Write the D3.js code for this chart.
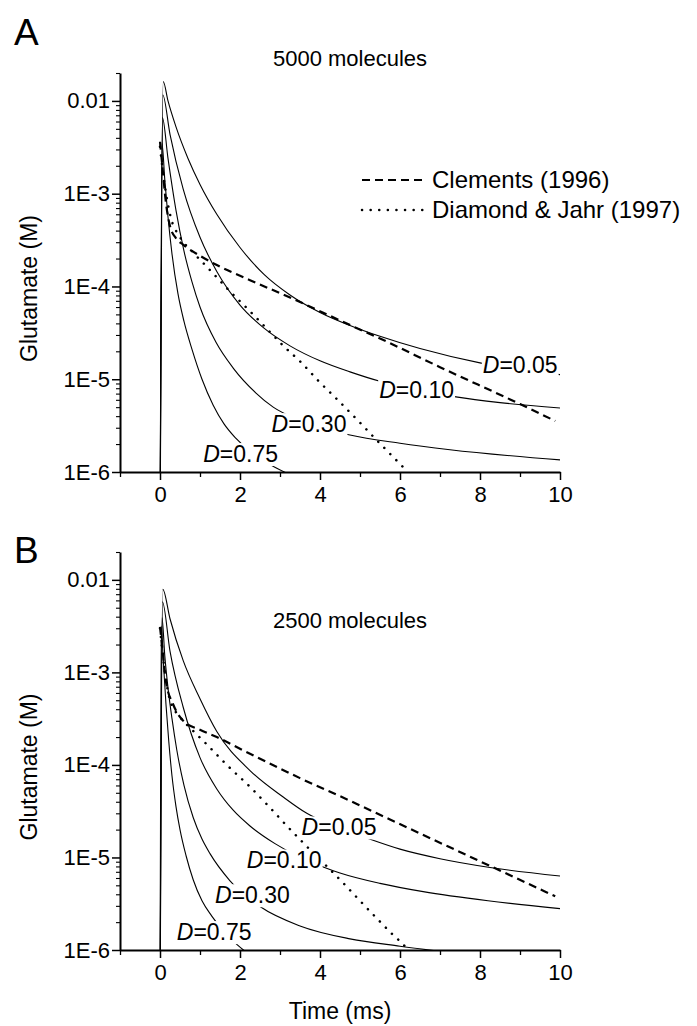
<!DOCTYPE html>
<html lang="en">
<head>
    <meta charset="UTF-8">
    <title>Glutamate concentration in the cleft</title>
    <script src="https://d3js.org/d3.v7.min.js"></script>
    <style>
        body { margin: 0; background: #fff; }
        svg text { font-family: "Liberation Sans", Arial, Helvetica, sans-serif; fill: #000; }
    </style>
</head>
<body>
    <svg id="chart" width="697" height="1026"></svg>

    <script>
        // [time (ms), glutamate (M)]

        // panel A, 5000 molecules
        const a_D005 = [[0, 1e-7], [0.08, 0.0162], [0.2, 0.010], [0.4, 5.25e-3], [0.7, 2.4e-3], [1.0, 1.26e-3], [1.42, 6.0e-4],
            [2.0, 2.63e-4], [2.6, 1.35e-4], [3.25, 8.1e-5], [4.0, 5.25e-5], [4.75, 3.8e-5], [5.5, 2.9e-5], [6.5, 2.14e-5],
            [8, 1.5e-5], [10, 1.12e-5]];
        const a_D010 = [[0, 1e-7], [0.07, 0.0116], [0.25, 4.37e-3], [0.58, 1.12e-3], [1.0, 3.39e-4], [1.42, 1.45e-4], [2.0, 6.3e-5],
            [2.6, 3.55e-5], [3.25, 2.29e-5], [4.0, 1.58e-5], [4.75, 1.2e-5], [5.5, 9.5e-6], [6.5, 7.6e-6], [7.4, 6.45e-6],
            [8.5, 5.6e-6], [10, 4.9e-6]];
        const a_D030 = [[0, 1e-7], [0.06, 6.6e-3], [0.2, 2.4e-3], [0.4, 6.6e-4], [0.6, 2.4e-4], [0.8, 1.12e-4], [1.0, 6.0e-5],
            [1.4, 2.5e-5], [1.83, 1.32e-5], [2.4, 7.1e-6], [2.83, 5.0e-6], [3.5, 3.6e-6], [4.75, 2.5e-6], [6, 2.04e-6],
            [7.25, 1.74e-6], [10, 1.35e-6]];
        const a_D075 = [[0, 1e-7], [0.05, 3.47e-3], [0.12, 1.41e-3], [0.2, 5.6e-4], [0.3, 2.24e-4], [0.45, 8.3e-5], [0.6, 4.2e-5],
            [0.8, 2.1e-5], [1.05, 1.0e-5], [1.33, 5.25e-6], [1.6, 3.3e-6], [1.9, 2.3e-6], [2.4, 1.48e-6], [2.92, 1.1e-6],
            [3.5, 8.3e-7]];
        const a_clements = [[0, 3.63e-3], [0.05, 2.19e-3], [0.15, 7.9e-4], [0.25, 4.47e-4], [0.4, 3.31e-4], [0.58, 2.82e-4],
            [1.0, 2.14e-4], [1.42, 1.7e-4], [2.25, 1.17e-4], [3.25, 7.6e-5], [4.67, 3.98e-5], [5.5, 2.75e-5], [7, 1.35e-5],
            [9, 5.4e-6], [9.88, 3.55e-6]];
        const a_diamond = [[0, 3.2e-3], [0.1, 1.4e-3], [0.25, 6.0e-4], [0.5, 3.4e-4], [0.8, 2.4e-4], [1.25, 1.5e-4], [1.67, 9.6e-5],
            [2.25, 5.4e-5], [2.67, 3.5e-5], [3.08, 2.3e-5], [3.54, 1.5e-5], [3.96, 9.6e-6], [4.375, 6.4e-6], [5, 3.4e-6],
            [5.42, 2.2e-6], [5.83, 1.45e-6], [6.15, 1.05e-6]];

        // panel B, 2500 molecules
        const b_D005 = [[0, 1e-7], [0.07, 7.9e-3], [0.25, 3.8e-3], [0.58, 1.34e-3], [1.0, 5.2e-4], [1.42, 2.3e-4], [2.25, 8.7e-5],
            [3.08, 4.5e-5], [3.67, 3.0e-5], [4.4, 2.14e-5], [5.17, 1.62e-5], [6, 1.23e-5], [7, 9.7e-6], [8.25, 7.8e-6], [10, 6.3e-6]];
        const b_D010 = [[0, 1e-7], [0.06, 5.8e-3], [0.25, 1.7e-3], [0.58, 4.2e-4], [1.0, 1.2e-4], [1.42, 5.5e-5], [1.83, 3.24e-5],
            [2.25, 2.19e-5], [2.875, 1.41e-5], [4.08, 7.9e-6], [4.5, 6.8e-6], [5.5, 5.25e-6], [6.58, 4.27e-6], [8.2, 3.4e-6],
            [10, 2.8e-6]];
        const b_D030 = [[0, 1e-7], [0.05, 3.9e-3], [0.12, 1.51e-3], [0.2, 6.8e-4], [0.3, 3.16e-4], [0.42, 1.45e-4], [0.6, 6.0e-5],
            [0.83, 2.7e-5], [1.05, 1.58e-5], [1.25, 1.1e-5], [1.75, 5.6e-6], [2.5, 2.95e-6], [3.5, 1.82e-6], [4.75, 1.32e-6],
            [6, 1.1e-6], [7.5, 9.1e-7]];
        const b_D075 = [[0, 1e-7], [0.03, 3.16e-3], [0.08, 1.41e-3], [0.15, 4.47e-4], [0.22, 1.78e-4], [0.3, 7.6e-5], [0.4, 3.55e-5],
            [0.5, 2.0e-5], [0.65, 1.05e-5], [0.83, 5.75e-6], [1.05, 3.4e-6], [1.29, 2.34e-6], [1.6, 1.58e-6], [1.92, 1.15e-6],
            [2.3, 8.5e-7]];
        const b_clements = [[0, 3.1e-3], [0.05, 2.0e-3], [0.15, 7.9e-4], [0.33, 4.5e-4], [0.58, 3.0e-4], [1.0, 2.4e-4], [1.42, 2.0e-4],
            [2.25, 1.32e-4], [3.5, 7.2e-5], [4.75, 4.1e-5], [5.75, 2.57e-5], [8.25, 8.1e-6], [9.88, 3.8e-6]];
        const b_diamond = [[0, 3e-3], [0.1, 1.2e-3], [0.25, 5e-4], [0.5, 3.3e-4], [0.8, 2.4e-4], [1.21, 1.6e-4], [1.67, 1.0e-4],
            [2.25, 5.8e-5], [2.71, 3.6e-5], [3.17, 2.2e-5], [3.54, 1.5e-5], [4.58, 5.3e-6], [5, 3.4e-6], [5.42, 2.2e-6],
            [5.83, 1.45e-6], [6.08, 1.15e-6], [6.2, 1.0e-6]];

        const dValues = ["0.05", "0.10", "0.30", "0.75"];
        const xTicks = [0, 2, 4, 6, 8, 10];
        const xMinorTicks = [-1, 1, 3, 5, 7, 9];
        const yTicks = [1e-2, 1e-3, 1e-4, 1e-5, 1e-6];
        const yTickLabels = ["0.01", "1E-3", "1E-4", "1E-5", "1E-6"];
        const legendLabels = ["Clements (1996)", "Diamond & Jahr (1997)"];

        const svg = d3.select("#chart");
        const x = d3.scaleLinear().domain([-1, 10]).range([120, 560]);
        const DASH = "8,5";
        const DOT = "0.1,8.5";

        function drawPanel(p) {
            const y = d3.scaleLog().domain([1e-6, 0.02]).range([p.bottom, p.top]);
            const g = svg.append("g");

            svg.append("clipPath").attr("id", "clip" + p.letter)
                .append("rect")
                .attr("x", x(-1)).attr("y", p.top)
                .attr("width", x(10) - x(-1)).attr("height", p.bottom - p.top);

            const line = d3.line()
                .x(d => x(d[0]))
                .y(d => y(d[1]))
                .curve(d3.curveMonotoneX);

            const plot = g.append("g").attr("clip-path", `url(#clip${p.letter})`);

            plot.selectAll(".sim")
                .data(p.curves)
                .enter()
                .append("path")
                .attr("d", line)
                .attr("fill", "none")
                .attr("stroke", "#000")
                .attr("stroke-width", 1.1);

            plot.append("path").datum(p.clements)
                .attr("d", line).attr("fill", "none")
                .attr("stroke", "#000").attr("stroke-width", 2.2)
                .attr("stroke-dasharray", DASH);

            plot.append("path").datum(p.diamond)
                .attr("d", line).attr("fill", "none")
                .attr("stroke", "#000").attr("stroke-width", 2.5)
                .attr("stroke-linecap", "round")
                .attr("stroke-dasharray", DOT);

            // D= labels sit on top of their curves, masking them
            dValues.forEach((v, i) => {
                const pos = p.labelPos[i];
                const lg = g.append("g").attr("transform", `translate(${x(pos[0])},${y(pos[1])})`);
                const bg = lg.append("rect").attr("fill", "#fff");
                const t = lg.append("text").style("font-size", "23px");
                t.append("tspan").style("font-style", "italic").text("D");
                t.append("tspan").text("=" + v);
                const bb = t.node().getBBox();
                bg.attr("x", bb.x - 1).attr("y", -19).attr("width", bb.width + 2).attr("height", 23);
            });

            // axes
            const xAxis = g.append("g")
                .attr("transform", `translate(0,${p.bottom})`)
                .call(d3.axisBottom(x).tickValues(xTicks).tickSize(8).tickSizeOuter(0).tickFormat(d3.format("d")));
            xAxis.select(".domain").attr("stroke-width", 2);
            xAxis.selectAll(".tick line").attr("stroke-width", 1.5);
            xAxis.selectAll(".tick text")
                .attr("y", 30).attr("dy", 0)
                .style("font-size", "22px");

            g.append("g")
                .attr("transform", `translate(0,${p.bottom})`)
                .call(d3.axisBottom(x).tickValues(xMinorTicks).tickSize(5).tickFormat(""))
                .call(a => a.select(".domain").remove())
                .selectAll(".tick line").attr("stroke-width", 1.3);

            const yAxis = g.append("g")
                .attr("transform", `translate(${x(-1)},0)`)
                .call(d3.axisLeft(y).tickValues(yTicks).tickSize(8).tickSizeOuter(0)
                    .tickFormat((d, i) => yTickLabels[i]));
            yAxis.select(".domain").attr("stroke-width", 2);
            yAxis.selectAll(".tick line").attr("stroke-width", 1.5);
            yAxis.selectAll(".tick text")
                .attr("x", -10)
                .style("font-size", "22px");

            const minorY = y.ticks().filter(v => Math.abs(Math.log10(v) - Math.round(Math.log10(v))) > 1e-6);
            g.append("g")
                .attr("transform", `translate(${x(-1)},0)`)
                .call(d3.axisLeft(y).tickValues(minorY).tickSize(4).tickFormat(""))
                .call(a => a.select(".domain").remove())
                .selectAll(".tick line").attr("stroke-width", 1.1);

            g.append("text")
                .attr("text-anchor", "middle")
                .attr("transform", `translate(37,${(p.top + p.bottom) / 2 + 16})rotate(-90)`)
                .style("font-size", "23px")
                .text("Glutamate (M)");

            g.append("text")
                .attr("x", 350).attr("y", p.titleY)
                .attr("text-anchor", "middle")
                .style("font-size", "22px")
                .text(p.title);

            g.append("text")
                .attr("x", 14).attr("y", p.letterY)
                .style("font-size", "37px")
                .text(p.letter);
        }

        drawPanel({
            letter: "A", letterY: 45,
            title: "5000 molecules", titleY: 66,
            top: 73, bottom: 472,
            curves: [a_D005, a_D010, a_D030, a_D075],
            clements: a_clements, diamond: a_diamond,
            labelPos: [[8.07, 1.16e-5], [5.48, 6.25e-6], [2.79, 2.69e-6], [1.08, 1.28e-6]]
        });

        drawPanel({
            letter: "B", letterY: 563,
            title: "2500 molecules", titleY: 628,
            top: 552, bottom: 950,
            curves: [b_D005, b_D010, b_D030, b_D075],
            clements: b_clements, diamond: b_diamond,
            labelPos: [[3.54, 1.73e-5], [2.17, 7.6e-6], [1.375, 3.2e-6], [0.42, 1.28e-6]]
        });

        // legend (panel A only)
        const legend = svg.append("g").attr("transform", "translate(362,180)");
        legendLabels.forEach((label, i) => {
            legend.append("line")
                .attr("x1", 0).attr("x2", 61)
                .attr("y1", i * 30).attr("y2", i * 30)
                .attr("stroke", "#000")
                .attr("stroke-width", i === 0 ? 2.2 : 2.5)
                .attr("stroke-linecap", i === 0 ? "butt" : "round")
                .attr("stroke-dasharray", i === 0 ? DASH : DOT);
            legend.append("text")
                .attr("x", 70).attr("y", i * 30 + 8)
                .style("font-size", "24px")
                .text(label);
        });

        svg.append("text")
            .attr("x", 340).attr("y", 1019)
            .attr("text-anchor", "middle")
            .style("font-size", "23px")
            .text("Time (ms)");
    </script>
</body>
</html>
